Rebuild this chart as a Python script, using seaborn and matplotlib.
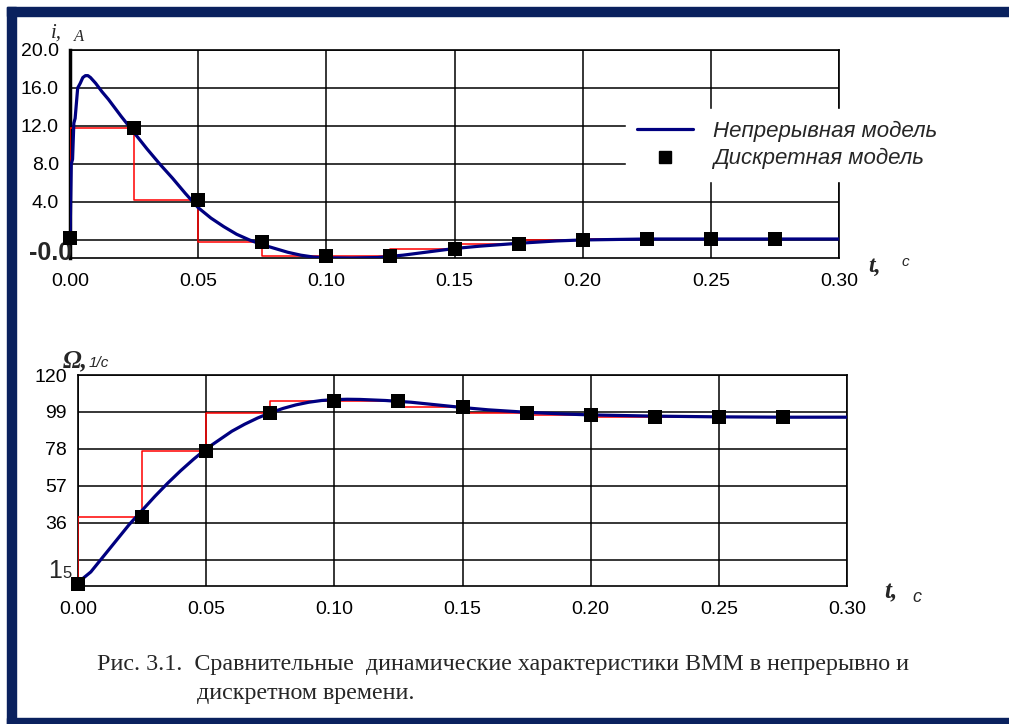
import matplotlib
matplotlib.use("Agg")
import matplotlib.pyplot as plt
import seaborn as sns
from matplotlib.lines import Line2D
from matplotlib.patches import Rectangle
from matplotlib.ticker import MultipleLocator
import matplotlib.transforms as mtransforms

# continuous model, current i(t)
t_i_cont = [0, 0.0005, 0.001, 0.0015, 0.002, 0.003, 0.004, 0.005, 0.006, 0.007, 0.008,
            0.010, 0.0125, 0.015, 0.0175, 0.02, 0.025, 0.03, 0.035, 0.04, 0.045, 0.05,
            0.055, 0.06, 0.065, 0.07, 0.075, 0.08, 0.085, 0.09, 0.095, 0.10, 0.11, 0.12,
            0.13, 0.14, 0.15, 0.16, 0.175, 0.19, 0.2, 0.225, 0.25, 0.275, 0.3]
i_cont = [0, 8.0, 8.5, 12.3, 12.8, 16.0, 16.5, 17.1, 17.3, 17.3, 17.1,
          16.5, 15.6, 14.8, 13.9, 13.0, 11.3, 9.6, 8.0, 6.5, 4.9, 3.4,
          2.3, 1.4, 0.6, 0.0, -0.5, -0.9, -1.3, -1.6, -1.8, -1.88, -1.9, -1.85,
          -1.6, -1.25, -0.9, -0.65, -0.35, -0.1, 0.0, 0.1, 0.1, 0.1, 0.1]

# continuous model, speed Omega(t)
t_w_cont = [0, 0.005, 0.01, 0.015, 0.02, 0.025, 0.03, 0.035, 0.04, 0.045, 0.05, 0.055,
            0.06, 0.065, 0.07, 0.075, 0.08, 0.085, 0.09, 0.095, 0.1, 0.105, 0.11, 0.12,
            0.13, 0.14, 0.15, 0.16, 0.175, 0.19, 0.2, 0.225, 0.25, 0.275, 0.3]
w_cont = [2, 8, 17, 26, 35, 43, 51, 58.5, 65.5, 72, 78, 83,
          88, 92, 95.5, 98.5, 101, 103, 104.5, 105.5, 106, 106.2, 106.1, 105.5,
          104.5, 103, 101.5, 100.2, 98.8, 97.8, 97.3, 96.6, 96.2, 96.0, 96.0]

# discrete model samples
t_disc = [0, 0.025, 0.05, 0.075, 0.10, 0.125, 0.15, 0.175, 0.20, 0.225, 0.25, 0.275]
i_disc = [0.2, 11.8, 4.2, -0.2, -1.7, -1.7, -1.0, -0.4, 0.0, 0.1, 0.1, 0.1]
w_disc = [1, 39, 77, 98.4, 105.3, 105.2, 102.0, 98.6, 97.3, 96.3, 96.3, 96.3]

x_ticks = [0, 0.05, 0.10, 0.15, 0.20, 0.25, 0.30]
x_labels = ["0.00", "0.05", "0.10", "0.15", "0.20", "0.25", "0.30"]
i_ticks = [0, 4, 8, 12, 16, 20]
i_labels = ["", "4.0", "8.0", "12.0", "16.0", "20.0"]
w_ticks = [15, 36, 57, 78, 99, 120]
w_labels = ["", "36", "57", "78", "99", "120"]
legend_labels = ["Непрерывная модель", "Дискретная модель"]
caption1 = "Рис. 3.1.  Сравнительные  динамические характеристики ВММ в непрерывно и"
caption2 = "дискретном времени."

sns.set_style("white")
plt.rcParams["font.family"] = ["Liberation Sans", "DejaVu Sans"]

W, H = 1009, 724
fig = plt.figure(figsize=(W / 100, H / 100), dpi=100)
fig.patch.set_facecolor("white")


def fx(px):
    return px / W


def fy(py):
    return 1 - py / H


navy = "#000080"

# page border
for x0, y0, x1, y1 in [(7, 7, 1009, 16), (7, 7, 16, 724), (7, 718, 1009, 724)]:
    fig.patches.append(Rectangle((fx(x0), fy(y1)), fx(x1) - fx(x0), fy(y0) - fy(y1),
                                 transform=fig.transFigure, color="#0a215e", zorder=0))

ax1 = fig.add_axes([fx(70), fy(258), fx(839) - fx(70), fy(50) - fy(258)])
ax2 = fig.add_axes([fx(78), fy(586), fx(847) - fx(78), fy(375) - fy(586)])


def draw(ax, t_cont, y_cont, y_disc):
    sns.lineplot(x=t_disc, y=y_disc, drawstyle="steps-pre", color="red", lw=1.1,
                 estimator=None, sort=False, ax=ax, zorder=3)
    sns.lineplot(x=t_cont, y=y_cont, color=navy, lw=2.3, estimator=None, sort=False,
                 ax=ax, zorder=4)
    sns.scatterplot(x=t_disc, y=y_disc, marker="s", s=90, color="black", linewidth=0,
                    ax=ax, zorder=5, clip_on=False)
    ax.set_xlim(0, 0.30)
    ax.set_xticks(x_ticks)
    ax.set_xticklabels(x_labels)
    ax.xaxis.set_minor_locator(MultipleLocator(0.025))
    ax.grid(True, which="major", color="black", lw=1.1)
    ax.tick_params(which="both", direction="in", labelsize=14, colors="black")
    ax.tick_params(which="minor", length=4, width=1)
    ax.tick_params(which="major", length=0)
    ax.tick_params(axis="x", pad=11)
    ax.tick_params(axis="y", pad=8)
    for s in ax.spines.values():
        s.set_color("black")
        s.set_linewidth(1.2)
    ax.set_xlabel("")
    ax.set_ylabel("")
    ax.set_facecolor("white")


draw(ax1, t_i_cont, i_cont, i_disc)
ax1.set_ylim(-1.9, 20)
ax1.set_yticks(i_ticks)
ax1.set_yticklabels(i_labels)
ax1.yaxis.set_minor_locator(MultipleLocator(2))
ax1.spines["left"].set_linewidth(2.5)
trans1 = mtransforms.blended_transform_factory(ax1.transAxes, ax1.transData)
ax1.text(0.003, -1.37, "-0.0", transform=trans1, ha="right", va="center",
         fontsize=18, fontweight="bold")

draw(ax2, t_w_cont, w_cont, w_disc)
ax2.set_ylim(0, 120)
ax2.set_yticks(w_ticks)
ax2.set_yticklabels(w_labels)
ax2.yaxis.set_minor_locator(MultipleLocator(10.5))

# odd "15" label of the lower chart
fig.text(fx(48), fy(578), "1", fontsize=18, ha="left", va="baseline")
fig.text(fx(62), fy(578), "5", fontsize=12, ha="left", va="baseline")

# legend
handles = [Line2D([], [], color=navy, lw=2.3),
           Line2D([], [], color="black", marker="s", markersize=9, linestyle="none")]
leg = ax1.legend(handles, legend_labels, loc="center", bbox_to_anchor=(fx(787), fy(145)),
                 bbox_transform=fig.transFigure, frameon=True, fancybox=False,
                 facecolor="white", edgecolor="white", framealpha=1,
                 prop={"style": "italic", "size": 16}, handlelength=2.5,
                 handletextpad=0.9, borderpad=0.5, labelspacing=0.3)
leg.set_zorder(10)

# axis labels
serif_it = {"family": ["Liberation Serif", "DejaVu Serif"], "style": "italic"}
fig.text(fx(51), fy(38), "i,", fontsize=15, **serif_it)
fig.text(fx(74), fy(41), "A", fontsize=12, **serif_it)
fig.text(fx(868), fy(272), "t,", fontsize=17, fontweight="bold", **serif_it)
fig.text(fx(902), fy(266), "c", fontsize=11, style="italic")

fig.text(fx(63), fy(367), "Ω,", fontsize=18, fontweight="bold", **serif_it)
fig.text(fx(89), fy(367), "1/c", fontsize=11, style="italic")
fig.text(fx(884), fy(598), "t,", fontsize=18, fontweight="bold", **serif_it)
fig.text(fx(912), fy(602), "c", fontsize=13, style="italic")

# caption
fig.text(fx(97), fy(670), caption1, fontsize=17.3, family=["Liberation Serif", "DejaVu Serif"])
fig.text(fx(197), fy(699), caption2, fontsize=17.3, family=["Liberation Serif", "DejaVu Serif"])

fig.savefig("out.png", dpi=100)
